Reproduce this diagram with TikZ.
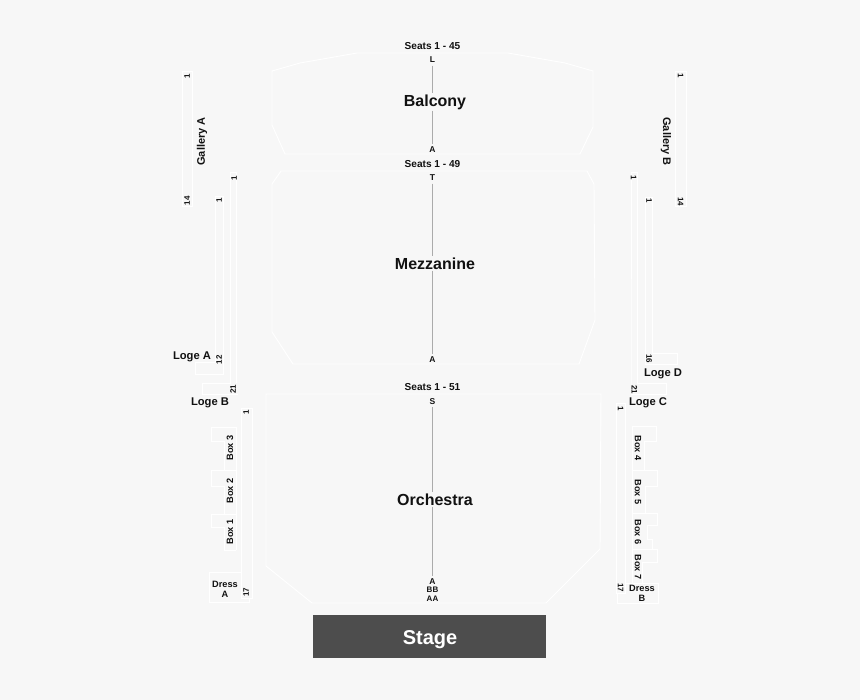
\documentclass[tikz,border=0pt]{standalone}
\usepackage{fontspec}
\setmainfont{Liberation Sans}
\definecolor{bgc}{HTML}{F7F7F7}
\definecolor{txt}{HTML}{111111}
\definecolor{stagec}{HTML}{4D4D4D}
\definecolor{aisle}{HTML}{ABABAB}
\tikzset{
  outline/.style={draw=white,line width=0.9pt,line join=miter},
  base/.style={inner sep=0pt,text=txt,font=\bfseries\fontsize{#1}{#1}\selectfont},
  section/.style={base=16},
  seats/.style={base=10.1},
  loge/.style={base=11.2},
  gal/.style={base=11},
  boxl/.style={base=9.2},
  small/.style={base=8},
  aislel/.style={draw=aisle,line width=1pt,shorten <=1pt,shorten >=1pt},
  rowl/.style={inner sep=1.5pt,text=txt,font=\bfseries\fontsize{8.5}{8.5}\selectfont}
}
\begin{document}
\begin{tikzpicture}[x=1pt,y=-1pt]
\useasboundingbox (0,0) rectangle (860,700);
\fill[bgc] (0,0) rectangle (860,700);
% sections
\draw[outline] (272,71)--(300,63)--(357,53)--(508,53)--(565,63)--(593,71)--(593,127)--(580,154)--(285,154)--(272,125)--cycle;
\draw[outline] (281,171)--(587,171)--(594,184)--(595,320)--(579,364)--(293,364)--(272,332)--(272,184)--cycle;
\draw[outline] (266,394)--(601,394)--(600,549)--(546,603)--(312,603)--(266,566)--cycle;
% galleries
\draw[outline] (182,71) rectangle (192,206);
\draw[outline] (675,71) rectangle (686,206);
% left side
\draw[outline] (236,383)--(236,172)--(230,172)--(230,383)--(202,383)--(202,394)--(238,394);
\draw[outline] (215,362)--(215,196)--(223,196)--(223,374)--(195,374)--(195,362)--cycle;
\draw[outline] (241,408) rectangle (252,598);
\draw[outline] (241,572)--(209,572)--(209,602)--(249,602)--(249,598);
\draw[outline] (236,550)--(236,427)--(211,427)--(211,441)--(224,441)--(224,470);
\draw[outline] (236,470)--(211,470)--(211,486)--(224,486)--(224,514);
\draw[outline] (236,514)--(211,514)--(211,527)--(224,527)--(224,550)--(236,550);
% right side
\draw[outline] (631,383)--(631,172)--(637,172)--(637,383)--(666,383)--(666,394)--(631,394)--cycle;
\draw[outline] (645,364)--(645,197)--(652,197)--(652,353)--(677,353)--(677,364)--cycle;
\draw[outline] (616,593)--(616,403)--(625,403)--(625,593)--cycle;
\draw[outline] (625,583)--(658,583)--(658,603)--(617,603)--(617,593);
\draw[outline] (632,583)--(632,426)--(656,426)--(656,441)--(644,441)--(644,470)--(632,470);
\draw[outline] (632,470)--(657,470)--(657,486)--(645,486)--(645,513)--(632,513);
\draw[outline] (632,513)--(657,513)--(657,525)--(647,525)--(647,539)--(652,539)--(652,549)--(632,549);
\draw[outline] (632,549)--(657,549)--(657,562)--(642,562)--(642,583);
% stage
\node[fill=stagec,minimum width=233pt,minimum height=43pt,inner sep=0pt,text=white,font=\bfseries\fontsize{20}{20}\selectfont] (stage) at (429.5,636.5) {\hspace*{1pt}\smash{\raisebox{-7.5pt}{Stage}}};
% titles
\node[section] (balcony) at (435,102) {Balcony};
\node[section] (mezz) at (435,263.5) {Mezzanine};
\node[section] (orch) at (435,499.5) {Orchestra};
\node[seats] (s45) at (432.5,46.5) {Seats 1 - 45};
\node[seats] (s49) at (432.5,164) {Seats 1 - 49};
\node[seats] (s51) at (432.5,387.5) {Seats 1 - 51};
% row labels
\node[rowl] (bL) at (432.5,60) {L};
\node[rowl] (bA) at (432.5,149.5) {A};
\node[rowl] (mT) at (432.5,178) {T};
\node[rowl] (mA) at (432.5,359.5) {A};
\node[rowl] (oS) at (432.5,401.5) {S};
\node[rowl] (oA) at (432.5,581.5) {A};
\node[small] (oBB) at (432.5,590) {BB};
\node[small] (oAA) at (432.5,598.5) {AA};
% aisles
\draw[aislel] (bL.south) -- (bL.south |- balcony.north);
\draw[aislel] (bA.north |- balcony.south) -- (bA.north);
\draw[aislel] (mT.south) -- (mT.south |- mezz.north);
\draw[aislel] (mA.north |- mezz.south) -- (mA.north);
\draw[aislel] (oS.south) -- (oS.south |- orch.north);
\draw[aislel] (oA.north |- orch.south) -- (oA.north);
% side labels
\node[gal,rotate=90] (galA) at (202,141.5) {Gallery A};
\node[gal,rotate=-90] (galB) at (666,141.5) {Gallery B};
\node[loge] (logeA) at (192,356.5) {Loge A};
\node[loge] (logeB) at (210,403) {Loge B};
\node[loge] (logeC) at (648,403) {Loge C};
\node[loge] (logeD) at (663,374) {Loge D};
\node[boxl,rotate=90] (box3) at (230,448) {Box 3};
\node[boxl,rotate=90] (box2) at (230,491) {Box 2};
\node[boxl,rotate=90] (box1) at (230,532) {Box 1};
\node[boxl,rotate=-90] (box4) at (638,448) {Box 4};
\node[boxl,rotate=-90] (box5) at (638,492) {Box 5};
\node[boxl,rotate=-90] (box6) at (638,532) {Box 6};
\node[boxl,rotate=-90] (box7) at (638,567) {Box 7};
\node[boxl,align=center] (dressA) at (225,589) {Dress\\[0.5pt]A};
\node[boxl,align=center] (dressB) at (642,593.5) {Dress\\[0.5pt]B};
% seat numbers
\node[small,rotate=90] (n1) at (187,76) {1};
\node[small,rotate=90] (n2) at (187,201) {14};
\node[small,rotate=-90] (n3) at (680.5,76) {1};
\node[small,rotate=-90] (n4) at (680.5,201.5) {14};
\node[small,rotate=90] (n5) at (234,178) {1};
\node[small,rotate=90] (n6) at (219,200.5) {1};
\node[small,rotate=90] (n7) at (219,360) {12};
\node[small,rotate=90] (n8) at (233,389.5) {21};
\node[small,rotate=90] (n9) at (246,412.5) {1};
\node[small,rotate=90] (n10) at (246,592.5) {17};
\node[small,rotate=-90] (n11) at (633.5,177.5) {1};
\node[small,rotate=-90] (n12) at (649,200.5) {1};
\node[small,rotate=-90] (n13) at (649,359) {16};
\node[small,rotate=-90] (n14) at (634.5,389.5) {21};
\node[small,rotate=-90] (n15) at (620.5,409) {1};
\node[small,rotate=-90] (n16) at (620.5,587.5) {17};
\end{tikzpicture}
\end{document}
